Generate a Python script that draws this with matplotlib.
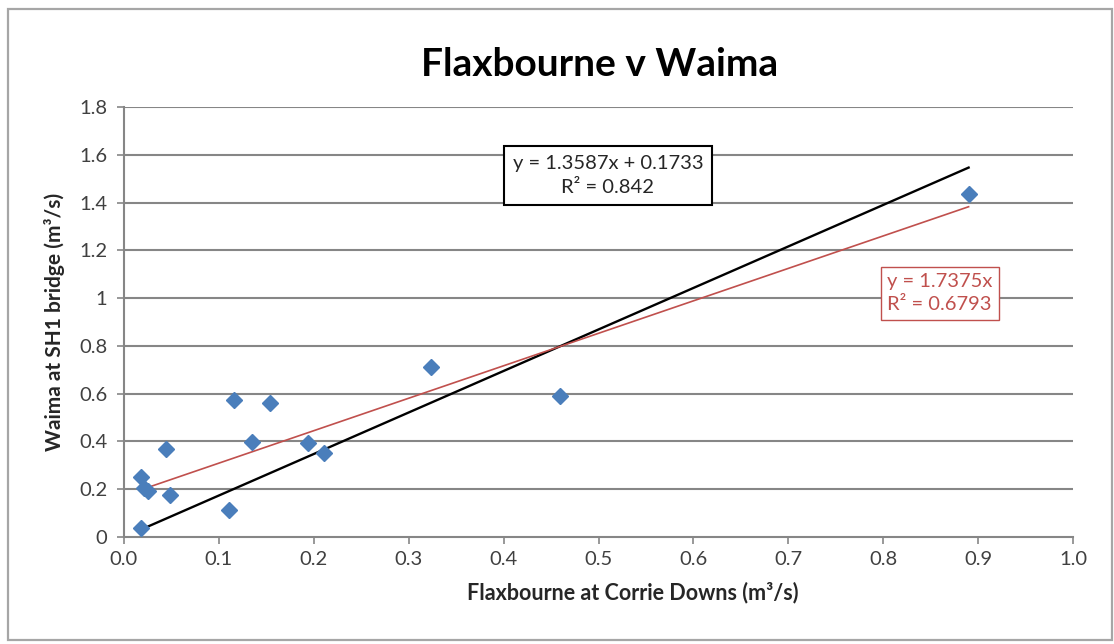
import matplotlib
matplotlib.use("Agg")
import matplotlib.pyplot as plt
import numpy as np
from matplotlib.patches import Rectangle

plt.rcParams['font.family'] = ['Lato', 'DejaVu Sans']

# Flow pairs (m3/s)
flaxbourne = [0.018, 0.018, 0.021, 0.025, 0.044, 0.048, 0.111, 0.116,
              0.135, 0.154, 0.194, 0.211, 0.323, 0.459, 0.890]
waima = [0.039, 0.250, 0.205, 0.192, 0.368, 0.177, 0.114, 0.574,
         0.399, 0.561, 0.392, 0.352, 0.713, 0.590, 1.434]

# trendlines as drawn (slope, intercept)
black_fit = (1.7375, 0.0)
red_fit = (1.3587, 0.1733)
black_label = 'y = 1.3587x + 0.1733\nR\u00b2 = 0.842'
red_label = 'y = 1.7375x\nR\u00b2 = 0.6793'

x_ticks = np.round(np.arange(0, 1.01, 0.1), 1)
y_ticks = np.round(np.arange(0, 1.81, 0.2), 1)

W, H = 1114, 644
fig = plt.figure(figsize=(W / 100, H / 100), dpi=100)
fig.patch.set_facecolor('white')

# outer chart frame
fig.add_artist(Rectangle((8 / W, 1 - 640 / H), (1112 - 8) / W, (640 - 9) / H,
                         transform=fig.transFigure, fill=False,
                         edgecolor='#a6a6a6', lw=1.6))

ax = fig.add_axes([124 / W, 1 - 537 / H, (1073 - 124) / W, (537 - 107) / H])
ax.set_xlim(0, 1.0)
ax.set_ylim(0, 1.8)

grid_c = '#868686'
for yv in y_ticks[1:]:
    ax.axhline(yv, color=grid_c, lw=1.5, zorder=1)
for s in ['top', 'right']:
    ax.spines[s].set_visible(False)
for s in ['left', 'bottom']:
    ax.spines[s].set_color(grid_c)
    ax.spines[s].set_linewidth(1.5)
ax.set_xticks(x_ticks)
ax.set_xticklabels([f'{v:.1f}' for v in x_ticks])
ax.set_yticks(y_ticks)
ax.set_yticklabels([f'{v:g}' for v in y_ticks])
ax.tick_params(axis='both', colors=grid_c, labelcolor='#404040',
               labelsize=14.5, length=5, width=1.2)
ax.tick_params(axis='y', pad=7)
ax.tick_params(axis='x', pad=5)

# trendlines over the data range
xs = np.array([min(flaxbourne), max(flaxbourne)])
ax.plot(xs, black_fit[0] * xs + black_fit[1], color='black', lw=1.7, zorder=3)
ax.plot(xs, red_fit[0] * xs + red_fit[1], color='#c0504d', lw=1.2, zorder=3)

ax.plot(flaxbourne, waima, linestyle='none', marker='D', ms=8.5,
        color='#4a7ebb', markeredgecolor='#4a7ebb', zorder=4)

ax.text(0.510, 1.515, black_label, ha='center', va='center',
        multialignment='center', fontsize=14.5, color='#262626',
        linespacing=1.5, zorder=5,
        bbox=dict(boxstyle='square,pad=0.45', facecolor='white',
                  edgecolor='black', lw=1.5))
ax.text(0.8045, 1.02, red_label, ha='left', va='center',
        multialignment='left', fontsize=14.5, color='#c0504d',
        linespacing=1.45, zorder=5,
        bbox=dict(boxstyle='square,pad=0.3', facecolor='white',
                  edgecolor='#c0504d', lw=1.0))

fig.text(600 / W, 1 - 64 / H, 'Flaxbourne v Waima', ha='center',
         va='center', fontsize=28, weight='bold', color='black')
ax.set_xlabel('Flaxbourne at Corrie Downs (m\u00b3/s)', fontsize=15.5,
              weight='bold', color='#262626', labelpad=6)
ax.xaxis.set_label_coords(0.536, -0.104)
ax.set_ylabel('Waima at SH1 bridge (m\u00b3/s)', fontsize=15,
              weight='bold', color='#262626', labelpad=10)

fig.savefig('out.png', dpi=100, facecolor='white')
